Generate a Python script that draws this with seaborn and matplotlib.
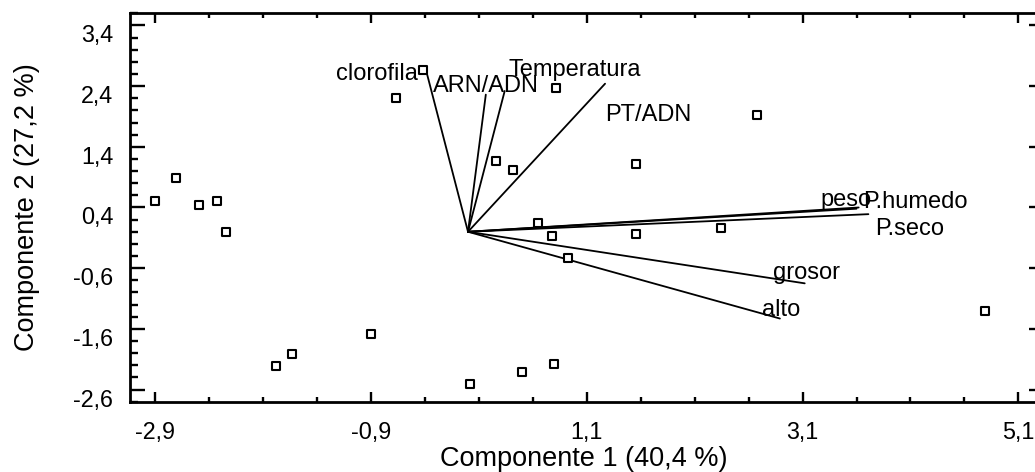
import matplotlib
matplotlib.use("Agg")
import matplotlib.pyplot as plt
import matplotlib.transforms as mtransforms
import seaborn as sns
import pandas as pd
import numpy as np

# scores of the observations (component 1, component 2)
score_x = [-2.90, -2.705, -2.49, -2.33, -2.24, -0.67, -0.42, 0.82, 0.26, 0.42,
           1.56, 2.68, 0.65, 0.78, 1.56, 2.34, 0.93, 4.79, -0.90, -1.78,
           -1.63, 0.02, 0.50, 0.80]
score_y = [0.50, 0.88, 0.44, 0.51, 0.00, 2.21, 2.66, 2.37, 1.17, 1.01,
           1.11, 1.92, 0.14, -0.07, -0.03, 0.06, -0.44, -1.30, -1.68, -2.22,
           -2.02, -2.51, -2.31, -2.18]

# variable vectors (loadings, scaled)
variables = ["clorofila", "ARN/ADN", "Temperatura", "PT/ADN", "peso",
             "P.humedo", "P.seco", "grosor", "alto"]
load_x = [-0.39, 0.165, 0.34, 1.27, 3.60, 3.62, 3.71, 3.12, 2.89]
load_y = [2.67, 2.26, 2.32, 2.44, 0.38, 0.40, 0.29, -0.85, -1.43]

x_ticks = [-2.9, -0.9, 1.1, 3.1, 5.1]
x_ticklabels = ["-2,9", "-0,9", "1,1", "3,1", "5,1"]
y_ticks = [-2.6, -1.6, -0.6, 0.4, 1.4, 2.4, 3.4]
y_ticklabels = ["-2,6", "-1,6", "-0,6", "0,4", "1,4", "2,4", "3,4"]

# label placement relative to vector tip (pixels) and alignment
label_style = {
    "clorofila": (-8, -10, "right"),
    "ARN/ADN": (0, 3, "center"),
    "Temperatura": (4, 15, "left"),
    "PT/ADN": (0, -37, "left"),
    "peso": (-36, 3, "left"),
    "P.humedo": (4, -1, "left"),
    "P.seco": (7, -21, "left"),
    "grosor": (-32, 4, "left"),
    "alto": (-18, 3, "left"),
}

sns.set_style("white")
plt.rcParams["font.family"] = ["Liberation Sans", "DejaVu Sans"]
plt.rcParams["text.color"] = "black"
plt.rcParams["axes.labelcolor"] = "black"
plt.rcParams["xtick.color"] = "black"
plt.rcParams["ytick.color"] = "black"

fig = plt.figure(figsize=(10.35, 4.72), dpi=100)
ax = fig.add_axes([0.1256, 0.149, 0.8764, 0.8228])

# vectors from the origin
vec = pd.DataFrame({
    "var": variables * 2,
    "x": [0.0] * len(variables) + load_x,
    "y": [0.0] * len(variables) + load_y,
})
sns.lineplot(data=vec, x="x", y="y", units="var", estimator=None, sort=False,
             color="black", linewidth=1.3, ax=ax, zorder=2)

# observation scores
scores = pd.DataFrame({"c1": score_x, "c2": score_y})
sns.scatterplot(data=scores, x="c1", y="c2", marker="s", s=28,
                facecolor="white", edgecolor="black", linewidth=1.5,
                ax=ax, zorder=3)

for name, lx, ly in zip(variables, load_x, load_y):
    dx, dy, ha = label_style[name]
    ax.annotate(name, (lx, ly), xytext=(dx, dy), textcoords="offset pixels",
                ha=ha, va="baseline", fontsize=17, color="black", zorder=4)

ax.set_xlim(-3.132, 5.273)
ax.set_ylim(-2.78, 3.6)

ax.set_xticks(x_ticks)
ax.set_xticklabels(x_ticklabels)
ax.set_xticks(np.arange(-2.9, 5.2, 0.5), minor=True)
ax.set_yticks(y_ticks)
ax.set_yticklabels(y_ticklabels)
ax.set_yticks(np.arange(-2.8, 3.61, 0.2), minor=True)

for side in ["left", "bottom", "top"]:
    ax.spines[side].set_linewidth(2)
    ax.spines[side].set_color("black")
ax.spines["right"].set_visible(False)

ax.tick_params(axis="x", which="major", direction="in", length=7, width=1.7,
               top=True, bottom=True, labelsize=16.8, pad=14, colors="black")
ax.tick_params(axis="x", which="minor", direction="in", length=3.5, width=1.7,
               top=True, bottom=True)
ax.tick_params(axis="y", which="major", direction="in", length=11, width=1.7,
               left=True, right=False, labelsize=16.8, pad=12, colors="black")
ax.tick_params(axis="y", which="minor", direction="in", length=6, width=1.7,
               left=True, right=False)

# right side: major ticks only
right = ax.secondary_yaxis("right")
right.set_yticks(y_ticks)
right.tick_params(direction="in", length=6, width=1.7, labelright=False)
right.spines["right"].set_linewidth(2)

# y tick labels sit a little below their ticks in the original
shift = mtransforms.ScaledTranslation(0, -8 / 100, fig.dpi_scale_trans)
for lab in ax.get_yticklabels():
    lab.set_transform(lab.get_transform() + shift)

ax.set_xlabel("Componente 1 (40,4 %)", fontsize=19.5, labelpad=1, color="black")
ax.set_ylabel("Componente 2 (27,2 %)", fontsize=19.5, labelpad=24, color="black")

fig.savefig("out.png", dpi=100)
